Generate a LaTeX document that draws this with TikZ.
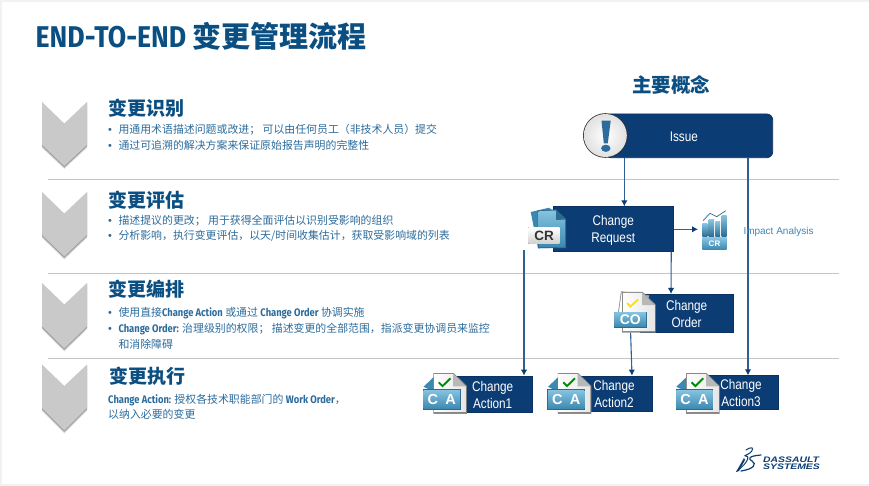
\documentclass[tikz,border=0pt]{standalone}
\usepackage{fontspec}
\usetikzlibrary{arrows.meta}
\setmainfont{Noto Sans CJK SC}
\newfontfamily\latf[FakeStretch=0.86]{Fira Sans}
\newfontfamily\titlef[FakeStretch=0.89]{Fira Sans}
\newfontfamily\boxf[FakeStretch=0.84]{Liberation Sans}
\newfontfamily\iconf{Liberation Sans}
\newfontfamily\logof[FakeStretch=1.3]{Liberation Sans}
\definecolor{titleblue}{HTML}{0B4F82}
\definecolor{bodyblue}{HTML}{2C6C9C}
\definecolor{boxblue}{HTML}{0C3C74}
\definecolor{boxedge}{HTML}{0A3364}
\definecolor{linkblue}{HTML}{2E6096}
\definecolor{chev}{HTML}{C9C9C9}
\definecolor{rulegray}{HTML}{C4C4C4}
\definecolor{impact}{HTML}{3F85B5}
\definecolor{lightblue}{HTML}{85C3E0}
\definecolor{midblue}{HTML}{3D88B0}
\definecolor{edgeblue}{HTML}{2B6B90}
\newcommand{\fs}[2]{\fontsize{#1}{#2}\selectfont\lineskip=0pt\lineskiplimit=-100pt}
\newcommand{\lt}[1]{{\latf\bfseries #1}}
\newcommand{\bul}{\makebox[10.3pt][l]{\iconf\textbullet}}
\newcommand{\tl}[2]{\raisebox{-#1pt}[\height][\depth]{#2}}
\newcommand{\chevron}[4]{% top, notch, side, tip
  \foreach \o/\a in {3/0.10,2/0.16,1/0.22}{
    \fill[black,opacity=\a] (42,#1+\o) -- (64.3,#2+\o) -- (87,#1+\o) -- (87,#3+\o) -- (64.3,#4+\o) -- (42,#3+\o) -- cycle;}
  \fill[chev] (42,#1) -- (64.3,#2) -- (87,#1) -- (87,#3) -- (64.3,#4) -- (42,#3) -- cycle;}
\newcommand{\pageicon}[2]{% x,y of sheet top left; sheet 32x40
  \fill[black!45] (#1-0.8,#2-0.2) -- (#1+19.5,#2-0.2) -- (#1+32.6,#2+12.5) -- (#1+32.6,#2+40.6) -- (#1-0.8,#2+40.6) -- cycle;
  \fill[left color=white,right color=black!10] (#1,#2+0.6) -- (#1+19,#2+0.6) -- (#1+31.8,#2+13) -- (#1+31.8,#2+38.8) -- (#1,#2+38.8) -- cycle;
  \fill[black!28] (#1+19,#2+0.6) -- (#1+31.8,#2+13) -- (#1+19,#2+13) -- cycle;}
\newcommand{\caicon}[3]{% x,y,name
  \fill[midblue] (#1,#2+13.5) -- (#1+11,#2+3) -- (#1+14,#2+20) -- cycle;
  \pageicon{#1+10.7}{#2}
  \draw[green!55!black,line width=1.9pt] (#1+15.2,#2+9) -- (#1+19,#2+12.8) -- (#1+27,#2+5);
  \fill[edgeblue] (#1-0.6,#2+16.1) rectangle (#1+37,#2+36.2);
  \shade[top color=lightblue,bottom color=midblue] (#1,#2+16.7) rectangle (#1+36.4,#2+35.6);
  \node[text=white,font=\iconf\bfseries\fs{14.5}{14.5},inner sep=0] (#3) at (#1+18.2,#2+26.2) {C\,\,\,A};}
\tikzset{
  rule/.style={rulegray,line width=1pt},
  head/.style={anchor=base west,inner sep=0,text=titleblue,font=\bfseries\fs{19}{19}},
  body/.style={anchor=west,inner sep=0,align=left,text=bodyblue},
  dbox/.style={draw=boxedge,line width=0.8pt,fill=boxblue,text=white,inner sep=0,align=center,font=\boxf\fs{14}{17}},
  conn/.style={linkblue,line width=1.1pt,-{Latex[length=6pt,width=6.5pt,color=boxblue]}},
}
\begin{document}
\begin{tikzpicture}[x=1pt,y=-1pt]
\useasboundingbox (0,0) rectangle (869,486);
\fill[black!5] (0,0) rectangle (869,486);
\fill[white] (2,2) rectangle (869,484);
% title
\node[anchor=base west,inner sep=0,text=titleblue,font=\bfseries\fs{29}{29}] (title) at (35.5,47.5) {{\titlef\fontsize{30}{30}\selectfont END-TO-END} 变更管理流程};
% rules
\draw[rule] (48,179.5) -- (839,179.5);
\draw[rule] (48,273.5) -- (839,273.5);
\draw[rule] (48,358.5) -- (839,358.5);
% chevrons
\chevron{102}{123.5}{145}{166}
\chevron{192}{213.5}{235}{256.5}
\chevron{283}{304.5}{326.5}{348.5}
\chevron{364.5}{386}{408}{430.5}
% text
\node[head] (h1) at (108,116) {变更识别};
\node[head] (h2) at (108,207.5) {变更评估};
\node[head] (h3) at (108,296.5) {变更编排};
\node[head] (h4) at (109,383.5) {变更执行};
\node[body,font=\fs{10.9}{15.5}] (b1) at (108,137.5) {\bul 用通用术语描述问题或改进； 可以由任何员工（非技术人员）提交\\\bul 通过可追溯的解决方案来保证原始报告声明的完整性};
\node[body,font=\fs{10.9}{15.5}] (b2) at (108,228.3) {\bul 描述提议的更改； 用于获得全面评估以识别受影响的组织\\\bul 分析影响，执行变更评估，以天/时间收集估计，获取受影响域的列表};
\node[body,font=\fs{10.9}{16}] (b3) at (108,328.7) {\bul 使用直接\lt{Change Action} 或通过 \lt{Change Order} 协调实施\\\bul \lt{Change Order:} 治理级别的权限； 描述变更的全部范围，指派变更协调员来监控\\\hspace*{10.3pt}和消除障碍};
\node[body,font=\fs{10.9}{15}] (b4) at (108,407) {\lt{Change Action:} 授权各技术职能部门的 \lt{Work Order}，\\以纳入必要的变更};
\node[anchor=center,inner sep=0,text=titleblue,font=\bfseries\fs{19.5}{19.5}] (kc) at (671,84.5) {主要概念};
% boxes
\node[dbox,rounded corners=6pt,minimum width=167.7pt,minimum height=43.7pt] (issue) at (688.85,135.85) {\hspace*{-10pt}\tl{1}{Issue}};
\node[dbox,minimum width=120.5pt,minimum height=44.6pt] (cr) at (613.25,229) {\tl{1.5}{Change}\\\tl{1.5}{Request}};
\node[dbox,minimum width=93.3pt,minimum height=38pt] (co) at (686.6,313.3) {\tl{1}{Change}\\\tl{1}{Order}};
\node[dbox,minimum width=79.3pt,minimum height=36.7pt] (ca1) at (492.65,394.35) {\tl{0.7}{Change}\\\tl{0.7}{Action1}};
\node[dbox,minimum width=76.6pt,minimum height=35pt] (ca2) at (614,393.5) {\tl{0.3}{Change}\\\tl{0.3}{Action2}};
\node[dbox,minimum width=74.6pt,minimum height=34pt] (ca3) at (741,392.7) {\tl{0.7}{Change}\\\tl{0.7}{Action3}};
\coordinate (crleft) at (524,250);
\coordinate (impactin) at (698,229.3);
% connectors
\draw[conn] ([xshift=-64.55pt]issue.south) -- ([xshift=11.05pt]cr.north);
\draw[conn] ([xshift=59.15pt]issue.south) -- ([xshift=7pt]ca3.north);
\draw[conn] (cr.east |- impactin) -- (impactin);
\draw[conn] ([xshift=58pt]cr.south) -- ([xshift=-15.6pt]co.north);
\draw[conn] (crleft) -- ([xshift=31.35pt]ca1.north);
\draw[conn] ([xshift=-56pt]co.south) -- ([xshift=18pt]ca2.north);
% issue icon
\fill[black!80] (605.3,135.5) circle (22.3);
\shade[inner color=white,outer color=black!12] (605.3,135.5) circle (21.5);
\fill[bodyblue] (601.5,120.7) -- (610.7,120.7) -- (607.8,143.3) -- (603.8,143.3) -- cycle;
\fill[bodyblue] (605.8,148.3) ellipse (4.7 and 3.6);
% CR icon
\fill[midblue] (530.7,212) -- (549,207.7) -- (560,216) -- (566,248) -- (538,248) -- cycle;
\fill[edgeblue] (537.5,210.5) -- (556,209.5) -- (566,219) -- (566,247.5) -- (538,248.3) -- cycle;
\shade[top color=lightblue,bottom color=midblue] (538.5,211.3) -- (555.5,210.5) -- (565.2,219.5) -- (565.2,246.7) -- (539,247.3) -- cycle;
\fill[edgeblue] (556,210.5) -- (565.5,219.5) -- (556,220) -- cycle;
\fill[black!60] (527.7,227.2) rectangle (560.4,244);
\shade[top color=white,bottom color=black!18] (528.4,227.9) rectangle (559.7,243.2);
\node[text=black!80,font=\iconf\bfseries\fs{13.5}{13.5},inner sep=0] (crlabel) at (544,235.6) {CR};
% impact icon
\foreach \a/\b/\t in {702.3/707.3/223.3,708.7/714/220,715.3/720/222,721.7/726.7/215.3}{
  \shade[top color=lightblue,bottom color=edgeblue] (\a,\t) rectangle (\b,236.7);}
\draw[edgeblue,line width=0.7pt] (703,220.7) -- (710,213.3) -- (716.7,216.7) -- (725.7,210.7);
\shade[top color=lightblue,bottom color=midblue] (702.3,238) rectangle (726.7,249.3);
\node[text=white,font=\iconf\bfseries\fs{8}{8},inner sep=0] (impcr) at (714.5,243.7) {CR};
\node[anchor=center,inner sep=0,text=impact,font=\iconf\fs{10}{10}] (impact) at (778.5,232) {Impact Analysis};
% CO icon
\fill[black!45,rotate around={-8:(632,310)}] (618.5,293) rectangle (647,328);
\fill[white,rotate around={-8:(632,310)}] (619.3,293.8) rectangle (646.2,327.2);
\pageicon{623}{292}
\draw[yellow!85!orange,line width=1.9pt] (627,303) -- (630.5,306.5) -- (638,299.5);
\fill[edgeblue] (613.8,311.5) rectangle (646.8,327.5);
\shade[top color=lightblue,bottom color=midblue] (614.4,312.1) rectangle (646.2,326.9);
\node[text=white,font=\iconf\bfseries\fs{14}{14},inner sep=0] (colabel) at (630.3,319.3) {CO};
% CA icons
\caicon{423.5}{373.3}{calabel1}
\caicon{548}{373.3}{calabel2}
\caicon{676.3}{373.3}{calabel3}
% logo
\draw[boxblue,line width=1pt,line cap=round,rounded corners=1pt] (746,450) .. controls (752,446) and (754,448) .. (751,452) .. controls (749,454) and (746,455) .. (744,456) .. controls (750,455) and (749,462) .. (737,471);
\fill[boxblue] (736,472) -- (744,458) -- (745,460) -- (739,471) -- cycle;
\draw[boxblue,line width=1.2pt,line cap=round] (761,455) .. controls (748,456) and (748,459) .. (752,461) .. controls (757,464) and (754,469) .. (741,471);
\node[anchor=base west,inner sep=0,text=boxblue,font=\logof\bfseries\itshape\fs{8}{8}] (logo1) at (763,462) {DASSAULT};
\node[anchor=base west,inner sep=0,text=boxblue,font=\logof\bfseries\itshape\fs{8}{8}] (logo2) at (763,469) {SYSTEMES};
\end{tikzpicture}
\end{document}
